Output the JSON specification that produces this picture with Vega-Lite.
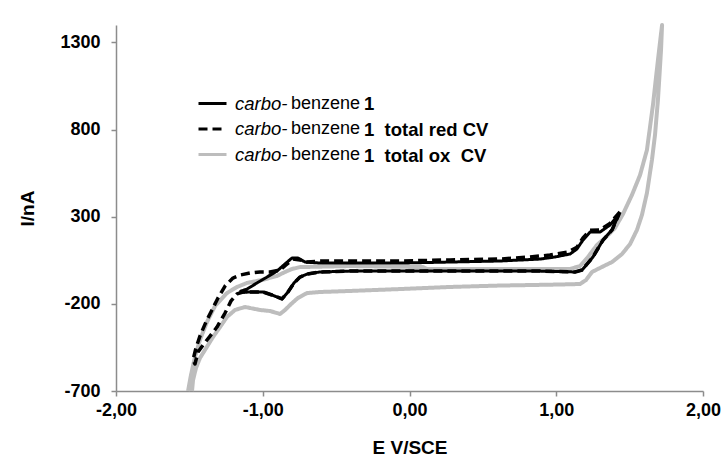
{
  "$schema": "https://vega.github.io/schema/vega-lite/v6.json",
  "width": 587,
  "height": 366,
  "autosize": "none",
  "padding": {"left": 116, "top": 25, "right": 21, "bottom": 83},
  "background": "#ffffff",
  "config": {
    "view": {"stroke": null},
    "font": "Liberation Sans",
    "axis": {"labelFont": "Liberation Sans", "titleFont": "Liberation Sans"},
    "legend": {"labelFont": "Liberation Sans"}
  },
  "data": {"values": [
    {"s":"c","i":1,"E":-1.509,"I":-700},{"s":"c","i":2,"E":-1.489,"I":-608},{"s":"c","i":3,"E":-1.462,"I":-505},{"s":"c","i":4,"E":-1.428,"I":-407},{"s":"c","i":5,"E":-1.380,"I":-304},{"s":"c","i":6,"E":-1.325,"I":-212},{"s":"c","i":7,"E":-1.244,"I":-138},{"s":"c","i":8,"E":-1.175,"I":-103},{"s":"c","i":9,"E":-1.107,"I":-80},{"s":"c","i":10,"E":-1.005,"I":-63},{"s":"c","i":11,"E":-0.903,"I":-40},{"s":"c","i":12,"E":-0.848,"I":-17},{"s":"c","i":13,"E":-0.801,"I":0},{"s":"c","i":14,"E":-0.746,"I":11},{"s":"c","i":15,"E":-0.405,"I":17},{"s":"c","i":16,"E":0.092,"I":11},{"s":"c","i":17,"E":0.119,"I":0},{"s":"c","i":18,"E":0.617,"I":0},{"s":"c","i":19,"E":1.094,"I":0},{"s":"c","i":20,"E":1.162,"I":17},{"s":"c","i":21,"E":1.216,"I":69},{"s":"c","i":22,"E":1.278,"I":138},{"s":"c","i":23,"E":1.346,"I":189},{"s":"c","i":24,"E":1.400,"I":235},{"s":"c","i":25,"E":1.455,"I":316},{"s":"c","i":26,"E":1.516,"I":425},{"s":"c","i":27,"E":1.571,"I":539},{"s":"c","i":28,"E":1.618,"I":683},{"s":"c","i":29,"E":1.659,"I":941},{"s":"c","i":30,"E":1.693,"I":1199},{"s":"c","i":31,"E":1.721,"I":1400},{"s":"c","i":32,"E":1.714,"I":1257},{"s":"c","i":33,"E":1.693,"I":970},{"s":"c","i":34,"E":1.673,"I":769},{"s":"c","i":35,"E":1.652,"I":625},{"s":"c","i":36,"E":1.618,"I":436},{"s":"c","i":37,"E":1.584,"I":310},{"s":"c","i":38,"E":1.550,"I":224},{"s":"c","i":39,"E":1.503,"I":143},{"s":"c","i":40,"E":1.448,"I":86},{"s":"c","i":41,"E":1.380,"I":40},{"s":"c","i":42,"E":1.298,"I":6},{"s":"c","i":43,"E":1.244,"I":-17},{"s":"c","i":44,"E":1.203,"I":-63},{"s":"c","i":45,"E":1.162,"I":-86},{"s":"c","i":46,"E":1.026,"I":-89},{"s":"c","i":47,"E":0.617,"I":-95},{"s":"c","i":48,"E":0.276,"I":-103},{"s":"c","i":49,"E":-0.065,"I":-115},{"s":"c","i":50,"E":-0.405,"I":-126},{"s":"c","i":51,"E":-0.610,"I":-132},{"s":"c","i":52,"E":-0.698,"I":-138},{"s":"c","i":53,"E":-0.760,"I":-166},{"s":"c","i":54,"E":-0.807,"I":-201},{"s":"c","i":55,"E":-0.848,"I":-235},{"s":"c","i":56,"E":-0.882,"I":-258},{"s":"c","i":57,"E":-0.951,"I":-241},{"s":"c","i":58,"E":-1.019,"I":-235},{"s":"c","i":59,"E":-1.121,"I":-218},{"s":"c","i":60,"E":-1.189,"I":-235},{"s":"c","i":61,"E":-1.244,"I":-275},{"s":"c","i":62,"E":-1.291,"I":-333},{"s":"c","i":63,"E":-1.339,"I":-390},{"s":"c","i":64,"E":-1.394,"I":-465},{"s":"c","i":65,"E":-1.428,"I":-511},{"s":"c","i":66,"E":-1.455,"I":-568},{"s":"c","i":67,"E":-1.475,"I":-637},{"s":"c","i":68,"E":-1.482,"I":-700},
    {"s":"b","i":1,"E":1.434,"I":327},{"s":"b","i":2,"E":1.366,"I":262},{"s":"b","i":3,"E":1.298,"I":224},{"s":"b","i":4,"E":1.230,"I":222},{"s":"b","i":5,"E":1.182,"I":178},{"s":"b","i":6,"E":1.141,"I":125},{"s":"b","i":7,"E":1.080,"I":97},{"s":"b","i":8,"E":0.957,"I":80},{"s":"b","i":9,"E":0.821,"I":69},{"s":"b","i":10,"E":0.617,"I":57},{"s":"b","i":11,"E":0.276,"I":52},{"s":"b","i":12,"E":-0.065,"I":46},{"s":"b","i":13,"E":-0.405,"I":46},{"s":"b","i":14,"E":-0.610,"I":46},{"s":"b","i":15,"E":-0.698,"I":40},{"s":"b","i":16,"E":-0.746,"I":52},{"s":"b","i":17,"E":-0.794,"I":57},{"s":"b","i":18,"E":-0.842,"I":23},{"s":"b","i":19,"E":-0.882,"I":-6},{"s":"b","i":20,"E":-0.951,"I":-17},{"s":"b","i":21,"E":-1.019,"I":-17},{"s":"b","i":22,"E":-1.087,"I":-23},{"s":"b","i":23,"E":-1.155,"I":-35},{"s":"b","i":24,"E":-1.203,"I":-52},{"s":"b","i":25,"E":-1.257,"I":-98},{"s":"b","i":26,"E":-1.305,"I":-166},{"s":"b","i":27,"E":-1.346,"I":-235},{"s":"b","i":28,"E":-1.387,"I":-304},{"s":"b","i":29,"E":-1.428,"I":-385},{"s":"b","i":30,"E":-1.455,"I":-453},{"s":"b","i":31,"E":-1.475,"I":-522},{"s":"b","i":32,"E":-1.462,"I":-545},{"s":"b","i":33,"E":-1.441,"I":-476},{"s":"b","i":34,"E":-1.407,"I":-436},{"s":"b","i":35,"E":-1.359,"I":-385},{"s":"b","i":36,"E":-1.312,"I":-333},{"s":"b","i":37,"E":-1.257,"I":-253},{"s":"b","i":38,"E":-1.216,"I":-183},{"s":"b","i":39,"E":-1.175,"I":-143},{"s":"b","i":40,"E":-1.135,"I":-132},{"s":"b","i":41,"E":-0.998,"I":-132},{"s":"b","i":42,"E":-0.937,"I":-149},{"s":"b","i":43,"E":-0.869,"I":-172},{"s":"b","i":44,"E":-0.828,"I":-132},{"s":"b","i":45,"E":-0.787,"I":-80},{"s":"b","i":46,"E":-0.746,"I":-46},{"s":"b","i":47,"E":-0.698,"I":-29},{"s":"b","i":48,"E":-0.610,"I":-17},{"s":"b","i":49,"E":-0.405,"I":-12},{"s":"b","i":50,"E":0.276,"I":-12},{"s":"b","i":51,"E":0.889,"I":-12},{"s":"b","i":52,"E":1.128,"I":-17},{"s":"b","i":53,"E":1.176,"I":-6},{"s":"b","i":54,"E":1.250,"I":69},{"s":"b","i":55,"E":1.319,"I":166},{"s":"b","i":56,"E":1.380,"I":224},{"s":"b","i":57,"E":1.434,"I":327},
    {"s":"a","i":1,"E":1.428,"I":316},{"s":"a","i":2,"E":1.366,"I":252},{"s":"a","i":3,"E":1.298,"I":212},{"s":"a","i":4,"E":1.230,"I":212},{"s":"a","i":5,"E":1.182,"I":166},{"s":"a","i":6,"E":1.141,"I":115},{"s":"a","i":7,"E":1.094,"I":86},{"s":"a","i":8,"E":0.991,"I":69},{"s":"a","i":9,"E":0.889,"I":57},{"s":"a","i":10,"E":0.617,"I":46},{"s":"a","i":11,"E":0.276,"I":40},{"s":"a","i":12,"E":-0.065,"I":34},{"s":"a","i":13,"E":-0.405,"I":34},{"s":"a","i":14,"E":-0.610,"I":34},{"s":"a","i":15,"E":-0.712,"I":40},{"s":"a","i":16,"E":-0.760,"I":63},{"s":"a","i":17,"E":-0.801,"I":63},{"s":"a","i":18,"E":-0.848,"I":29},{"s":"a","i":19,"E":-0.903,"I":-12},{"s":"a","i":20,"E":-0.971,"I":-46},{"s":"a","i":21,"E":-1.039,"I":-80},{"s":"a","i":22,"E":-1.107,"I":-115},{"s":"a","i":23,"E":-1.150,"I":-127},{"s":"a","i":24,"E":-1.130,"I":-134},{"s":"a","i":25,"E":-1.087,"I":-132},{"s":"a","i":26,"E":-0.998,"I":-132},{"s":"a","i":27,"E":-0.937,"I":-149},{"s":"a","i":28,"E":-0.869,"I":-172},{"s":"a","i":29,"E":-0.828,"I":-132},{"s":"a","i":30,"E":-0.787,"I":-80},{"s":"a","i":31,"E":-0.746,"I":-46},{"s":"a","i":32,"E":-0.698,"I":-29},{"s":"a","i":33,"E":-0.610,"I":-17},{"s":"a","i":34,"E":-0.405,"I":-12},{"s":"a","i":35,"E":0.276,"I":-12},{"s":"a","i":36,"E":0.889,"I":-12},{"s":"a","i":37,"E":1.128,"I":-17},{"s":"a","i":38,"E":1.176,"I":-6},{"s":"a","i":39,"E":1.250,"I":69},{"s":"a","i":40,"E":1.319,"I":166},{"s":"a","i":41,"E":1.380,"I":224},{"s":"a","i":42,"E":1.428,"I":316}
  ]},
  "mark": {"type": "line", "strokeJoin": "round"},
  "encoding": {
    "x": {
      "field": "E", "type": "quantitative",
      "scale": {"domain": [-2, 2], "nice": false, "zero": false},
      "axis": {
        "values": [-2, -1, 0, 1, 2],
        "labelExpr": "(datum.value < 0 ? '-' : '') + abs(datum.value) + ',00'",
        "title": "E V/SCE", "grid": false, "labelFlush": false, "labelOverlap": false,
        "labelFontSize": 18, "labelFontWeight": "bold", "labelColor": "#000000",
        "titleFontSize": 19, "titleFontWeight": "bold", "titleColor": "#000000",
        "tickSize": 5, "labelPadding": 5, "titlePadding": 19,
        "domainColor": "#8c8c8c", "tickColor": "#8c8c8c", "domainWidth": 1.5, "tickWidth": 1.5
      }
    },
    "y": {
      "field": "I", "type": "quantitative",
      "scale": {"domain": [-700, 1400], "nice": false, "zero": false},
      "axis": {
        "values": [-700, -200, 300, 800, 1300],
        "labelExpr": "(datum.value < 0 ? '-' : '') + abs(datum.value)",
        "title": "I/nA", "grid": false, "labelOverlap": false, "labelFlush": false,
        "labelFontSize": 18, "labelFontWeight": "bold", "labelColor": "#000000",
        "titleFontSize": 19, "titleFontWeight": "bold", "titleColor": "#000000",
        "tickSize": 5, "labelPadding": 11, "titlePadding": 22,
        "domainColor": "#8c8c8c", "tickColor": "#8c8c8c", "domainWidth": 1.5, "tickWidth": 1.5
      }
    },
    "order": {"field": "i", "type": "quantitative"},
    "color": {
      "field": "s", "type": "nominal",
      "scale": {"range": ["#000000", "#000000", "#bdbdbd"]},
      "legend": {"orient": "none", "legendX": 81, "legendY": 63, "title": null, "padding": 0, "symbolType": "stroke", "symbolSize": 784, "symbolStrokeWidth": 3, "labelOffset": 7, "labelFontSize": 18.5, "labelFontStyle": "italic", "labelColor": "#000000", "rowPadding": 0.5, "labelExpr": "'carbo-'"}
    },
    "strokeDash": {
      "field": "s", "type": "nominal",
      "scale": {"range": [[1, 0], [9, 5], [1, 0]]},
      "legend": {"orient": "none", "legendX": 81, "legendY": 63, "title": null, "padding": 0, "symbolType": "stroke", "symbolSize": 784, "symbolStrokeWidth": 3, "labelOffset": 7, "labelFontSize": 18.5, "labelFontStyle": "italic", "labelColor": "#000000", "rowPadding": 0.5, "labelExpr": "'carbo-'"}
    },
    "opacity": {
      "field": "s", "type": "nominal",
      "scale": {"type": "point", "domain": ["a", "b", "c", "z"], "range": [1, 1]},
      "legend": {"orient": "none", "legendX": 137, "legendY": 63, "title": null, "padding": 0, "symbolType": "stroke", "symbolSize": 784, "symbolStrokeWidth": 3, "symbolOpacity": 0, "symbolStrokeColor": "transparent", "labelOffset": 7, "labelFontSize": 18, "labelColor": "#000000", "rowPadding": 0.5, "values": ["a", "b", "c"], "labelExpr": "'benzene'"}
    },
    "strokeWidth": {
      "field": "s", "type": "nominal",
      "scale": {"type": "point", "domain": ["a", "b", "c"], "range": [3, 4]},
      "legend": {"orient": "none", "legendX": 209, "legendY": 63, "title": null, "padding": 0, "symbolType": "stroke", "symbolSize": 784, "symbolOpacity": 0, "symbolStrokeColor": "transparent", "labelOffset": 7, "labelFontSize": 18.5, "labelFontWeight": "bold", "labelColor": "#000000", "rowPadding": 0.5, "labelExpr": "datum.value == 'a' ? '1' : datum.value == 'b' ? '1\u00a0\u00a0total red CV' : '1\u00a0\u00a0total ox\u00a0\u00a0CV'"}
    }
  }
}
